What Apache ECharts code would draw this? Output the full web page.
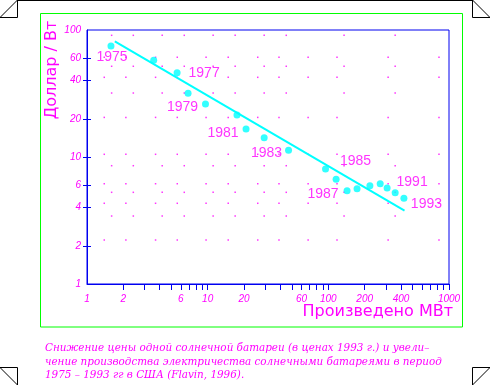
<!DOCTYPE html>
<html><head><meta charset="utf-8">
<script src="https://cdn.jsdelivr.net/npm/echarts/dist/echarts.min.js"></script>
<style>html,body{margin:0;padding:0;background:#fff}#c{width:490px;height:385px}</style>
</head><body><div id="c"></div>
<script>
// ---- data ----
const years = [1975,1976,1977,1978,1979,1980,1981,1982,1983,1985,1986,1987,1988,1989,1990,1991,1992,1993];
const produced = [1.58,3.57,5.58,6.88,9.59,17.5,20.8,29.4,46.8,94.8,116,143,173,221,269,307,358,423];
const price = [74.8,57.7,46.1,31.7,26.1,21.4,16.6,14.2,11.3,8.05,6.67,5.43,5.63,5.94,6.16,5.70,5.24,4.73];
const labelledYears = [1975,1977,1979,1981,1983,1985,1987,1991,1993];
const trendX = [1.70, 428];
const trendY = [81.5, 3.78];
const xTickLabels = [1,2,6,10,20,60,100,200,400,1000];
const xTicks = [2,3,4,5,6,7,8,9,10,20,30,40,50,60,70,80,90,100,200,300,400,500,600,700,800,900,1000];
const yTickLabels = [1,2,4,6,10,20,40,60,100];
const yTicks = [2,4,6,10,20,40,60];
const dotColsA = [1.39,2.1,3.7,5.6,9.7,14.8,26,39,68,118,313,826];
const dotRowsA = [61,42.4,20.5,10.5,6.16,4.32,2.22];
const dotColsB = [1.6,2.42,4.2,6.4,11.1,16.9,29.4,44.8,135,358];
const dotRowsB = [90.8,51.8,31.9,8.54,5.27,3.43];
const yName = 'Доллар / Вт';
const xName = 'Произведено МВт';
const caption = [
  'Снижение цены одной солнечной батареи (в ценах 1993 г.) и увели–',
  'чение производства электричества солнечными батареями в период',
  '1975 – 1993 гг в США (Flavin, 1996).'
];

// ---- styles ----
const BLUE = '#0000f0', MAG = '#ff00ff', CYAN = '#00ffff', GREEN = '#00ff00';
const labelOffsets = {1975:[1,11],1977:[27,0],1979:[-23,3],1981:[-23,4],1983:[-22,3],1985:[30,-8],1987:[-24,3],1991:[25,-6],1993:[22.5,6]};
const CAPFONT = 'italic 10.4px "DejaVu Serif"';

const chart = echarts.init(document.getElementById('c'), null, {renderer:'canvas'});

const pts = years.map((y,i)=>({
  value:[produced[i], price[i]],
  label: labelledYears.includes(y)
    ? {show:true, formatter:String(y), position:'inside', offset:labelOffsets[y],
       color:MAG, fontSize:14, fontFamily:'Liberation Sans', align:'center', verticalAlign:'middle'}
    : {show:false}
}));
const dots = [];
dotRowsA.forEach(r=>dotColsA.forEach(c=>dots.push([c,r])));
dotRowsB.forEach(r=>dotColsB.forEach(c=>dots.push([c,r])));

const lg = v => Math.log10(v);
const hidden = {axisLine:{show:false},axisTick:{show:false},axisLabel:{show:false},splitLine:{show:false}};

const corner = (pts) => ({type:'polyline', shape:{points:pts}, style:{stroke:'#000', lineWidth:1, fill:null}, silent:true});

chart.setOption({
  animation:false,
  backgroundColor:'#fff',
  grid:{left:87, right:41, top:30, bottom:101, show:true, borderColor:BLUE, borderWidth:1, backgroundColor:'transparent'},
  xAxis:[
    Object.assign({type:'log', logBase:10, min:1, max:1000}, hidden),
    {type:'value', min:0, max:3, position:'bottom',
     axisLine:{show:true, lineStyle:{color:BLUE, width:1}},
     axisTick:{show:true, customValues:xTicks.map(lg), length:6, inside:false, lineStyle:{color:BLUE, width:1}},
     axisLabel:{show:true, customValues:xTickLabels.map(lg), formatter:v=>String(Math.round(Math.pow(10,v))),
       margin:10, color:MAG, fontSize:10, fontStyle:'italic', fontFamily:'Liberation Sans'},
     splitLine:{show:false}}
  ],
  yAxis:[
    Object.assign({type:'log', logBase:10, min:1, max:100}, hidden),
    {type:'value', min:0, max:2, position:'left',
     axisLine:{show:true, lineStyle:{color:BLUE, width:1}},
     axisTick:{show:true, customValues:yTicks.map(lg), length:4, inside:false, lineStyle:{color:BLUE, width:1}},
     axisLabel:{show:true, customValues:yTickLabels.map(lg), formatter:v=>String(Math.round(Math.pow(10,v))),
       margin:6, color:MAG, fontSize:10, fontStyle:'italic', fontFamily:'Liberation Sans'},
     splitLine:{show:false}},
    {type:'value', min:0, max:2, position:'left',
     axisLine:{show:false},
     axisTick:{show:true, customValues:yTicks.map(lg), length:4, inside:true, lineStyle:{color:BLUE, width:1}},
     axisLabel:{show:false}, splitLine:{show:false}}
  ],
  series:[
    {type:'scatter', xAxisIndex:0, yAxisIndex:0, data:dots, symbol:'rect', symbolSize:1.5,
     itemStyle:{color:MAG}, silent:true, z:1},
    {type:'line', xAxisIndex:0, yAxisIndex:0, data:trendX.map((x,i)=>[x,trendY[i]]),
     symbol:'none', lineStyle:{color:CYAN, width:2}, silent:true, z:2},
    {type:'scatter', xAxisIndex:0, yAxisIndex:0, data:pts, symbol:'circle', symbolSize:7,
     itemStyle:{color:CYAN}, silent:true, z:3}
  ],
  graphic:[
    {type:'rect', shape:{x:40.5, y:13.5, width:422, height:313.5}, style:{stroke:GREEN, fill:null, lineWidth:1}, silent:true},
    {type:'line', shape:{x1:17, y1:0.5, x2:473, y2:0.5}, style:{stroke:'#000', lineWidth:1}, silent:true},
    corner([[17.5,0],[17.5,17.5],[0,17.5],[17.5,0]]),
    corner([[472.5,0],[472.5,17.5],[490,17.5],[472.5,0]]),
    corner([[17.5,385],[17.5,367.5],[0,367.5],[17.5,385]]),
    corner([[472.5,385],[472.5,367.5],[490,367.5],[472.5,385]]),
    {type:'text', x:52, y:70, rotation:Math.PI/2,
     style:{text:yName, fill:MAG, font:'16px "DejaVu Sans"', align:'center', verticalAlign:'middle'}, silent:true},
    {type:'text', x:453, y:312,
     style:{text:xName, fill:MAG, font:'16px "DejaVu Sans"', align:'right', verticalAlign:'middle'}, silent:true},
    {type:'text', x:45, y:348.3, style:{text:caption[0], fill:MAG, font:CAPFONT, align:'left', verticalAlign:'middle'}, silent:true},
    {type:'text', x:45, y:362.3, style:{text:caption[1], fill:MAG, font:CAPFONT, align:'left', verticalAlign:'middle'}, silent:true},
    {type:'text', x:45, y:375.7, style:{text:caption[2], fill:MAG, font:CAPFONT, align:'left', verticalAlign:'middle'}, silent:true}
  ]
});
</script></body></html>
